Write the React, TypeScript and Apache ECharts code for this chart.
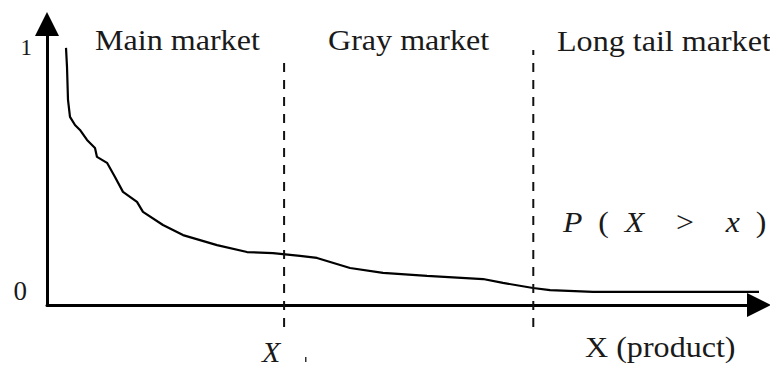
import React, { useEffect, useRef } from "react";
import * as echarts from "echarts";

// Survival curve P(X > x) across product rank (arbitrary units 0..100)
const curveX = [2.67, 2.81, 2.95, 3.23, 3.93, 4.63, 5.62, 6.74, 7.02, 8.43, 9.55, 10.67, 12.64, 13.48, 16.29, 19.1, 23.88, 28.09, 31.74, 35.53, 37.92, 42.56, 47.19, 53.37, 61.24, 64.04, 68.26, 70.65, 76.69, 100];
const curveY = [1.0, 0.926, 0.798, 0.732, 0.7, 0.681, 0.642, 0.611, 0.576, 0.553, 0.498, 0.44, 0.401, 0.362, 0.311, 0.272, 0.233, 0.206, 0.202, 0.191, 0.183, 0.144, 0.125, 0.113, 0.101, 0.086, 0.066, 0.058, 0.051, 0.051];

// Market boundaries (x positions) and the vertical extent of the dashed separators
const boundaryX = [33.3, 68.3];
const boundaryTop = [0.946, 0.992];
const boundaryBottom = -0.086;

const yTickValues = [0, 1];
const yTickLabels = ["0", "1"];

const regionLabels = ["Main market", "Gray market", "Long tail market"];

const FONT = "Liberation Serif";

export default function App() {
  const ref = useRef<HTMLDivElement>(null);
  useEffect(() => {
    if (!ref.current) return;
    const chart = echarts.init(ref.current, null, { renderer: "svg" });
    const curve = curveX.map((x, i) => [x, curveY[i]]);
    const boundarySeries = boundaryX.map((x, i) => ({
      type: "line",
      data: [
        [x, boundaryBottom],
        [x, boundaryTop[i]],
      ],
      symbol: "none",
      clip: false,
      silent: true,
      lineStyle: { color: "#111", width: 2, type: [9, 8] },
    }));
    const ts = (text: string, fontSize: number, extra: any = {}) => ({
      text,
      fontSize,
      fontFamily: FONT,
      fill: "#1a1a1a",
      verticalAlign: "middle",
      align: "left",
      ...extra,
    });
    chart.setOption({
      animation: false,
      backgroundColor: "#fff",
      textStyle: { fontFamily: FONT },
      grid: { left: 47, right: 11, top: 24, bottom: 62, containLabel: false },
      xAxis: {
        type: "value",
        min: 0,
        max: 100,
        axisLine: {
          show: true,
          onZero: false,
          lineStyle: { color: "#000", width: 3 },
          symbol: ["none", "triangle"],
          symbolSize: [24, 24],
        },
        axisTick: { show: false },
        axisLabel: { show: false },
        splitLine: { show: false },
      },
      yAxis: {
        type: "value",
        min: 0,
        max: 1.093,
        axisLine: {
          show: true,
          onZero: false,
          lineStyle: { color: "#000", width: 3 },
          symbol: ["none", "triangle"],
          symbolSize: [24, 24],
        },
        axisTick: { show: false },
        splitLine: { show: false },
        axisLabel: {
          show: true,
          customValues: yTickValues,
          margin: 15,
          fontFamily: FONT,
          formatter: (v: number) => {
            const idx = yTickValues.indexOf(v);
            const t = idx >= 0 ? yTickLabels[idx] : "";
            return v === 0 ? `{z|${t}}` : `{o|${t}}`;
          },
          rich: {
            z: { fontFamily: FONT, fontSize: 27, color: "#1a1a1a", padding: [0, 5, 28, 0] },
            o: { fontFamily: FONT, fontSize: 23, color: "#1a1a1a" },
          },
        },
      },
      series: [
        {
          type: "line",
          data: curve,
          symbol: "none",
          smooth: false,
          lineStyle: { color: "#000", width: 2.2 },
        },
        ...boundarySeries,
      ],
      graphic: [
        { type: "text", x: 95, y: 40, scaleX: 1.07, style: ts(regionLabels[0], 30) },
        { type: "text", x: 328, y: 40, scaleX: 1.07, style: ts(regionLabels[1], 30) },
        { type: "text", x: 557, y: 41, scaleX: 1.07, style: ts(regionLabels[2], 30) },
        {
          type: "text",
          x: 563,
          y: 222,
          scaleX: 1.06,
          style: {
            ...ts("{i|P}  (  {i|X}    >    {i|x}  )", 30),
            rich: {
              i: { fontFamily: FONT, fontStyle: "italic", fontSize: 30, fill: "#1a1a1a" },
            },
          },
        },
        { type: "text", x: 585, y: 347, scaleX: 1.07, style: ts("X (product)", 30) },
        { type: "text", x: 262, y: 351, style: ts("X", 30, { fontStyle: "italic" }) },
        { type: "rect", shape: { x: 305, y: 357, width: 1.5, height: 5 }, style: { fill: "#333" } },
      ],
    });
    return () => chart.dispose();
  }, []);
  return (
    <div
      ref={ref}
      style={{ position: "fixed", left: 0, top: 0, width: 770, height: 367, background: "#fff" }}
    />
  );
}
